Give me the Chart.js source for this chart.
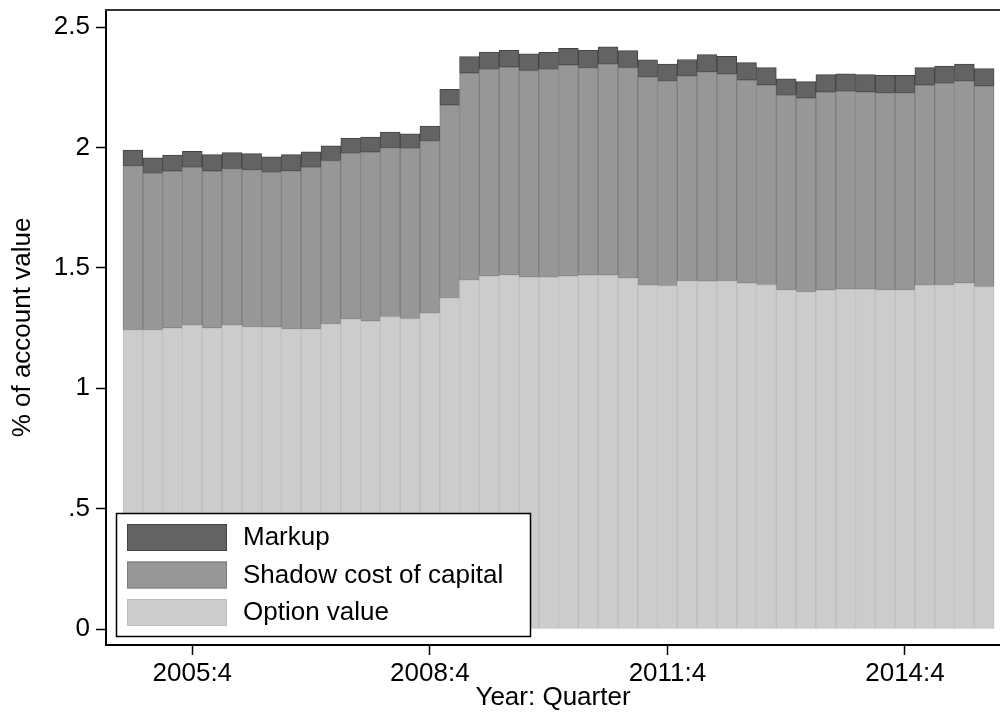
<!DOCTYPE html>
<html>
<head>
<meta charset="utf-8">
<script src="https://cdn.jsdelivr.net/npm/chart.js@4/dist/chart.umd.min.js"></script>
<style>
  html, body { margin: 0; padding: 0; background: #ffffff; }
  canvas { display: block; }
</style>
</head>
<body>
<canvas id="chart" width="1000" height="715"></canvas>
<script>
// Quarterly periods, 2005:1 to 2015:4
const quarters = [
  "2005:1","2005:2","2005:3","2005:4","2006:1","2006:2","2006:3","2006:4",
  "2007:1","2007:2","2007:3","2007:4","2008:1","2008:2","2008:3","2008:4",
  "2009:1","2009:2","2009:3","2009:4","2010:1","2010:2","2010:3","2010:4",
  "2011:1","2011:2","2011:3","2011:4","2012:1","2012:2","2012:3","2012:4",
  "2013:1","2013:2","2013:3","2013:4","2014:1","2014:2","2014:3","2014:4",
  "2015:1","2015:2","2015:3","2015:4"
];

// Components of the fee, % of account value
const optionValue = [
  1.242, 1.242, 1.250, 1.261, 1.250, 1.261, 1.255, 1.253,
  1.247, 1.247, 1.267, 1.287, 1.279, 1.297, 1.289, 1.311,
  1.375, 1.449, 1.466, 1.471, 1.462, 1.460, 1.466, 1.469,
  1.469, 1.456, 1.427, 1.426, 1.446, 1.444, 1.446, 1.436,
  1.430, 1.409, 1.400, 1.408, 1.411, 1.411, 1.409, 1.409,
  1.427, 1.429, 1.437, 1.422
];
const shadowCost = [
  0.681, 0.650, 0.651, 0.656, 0.651, 0.651, 0.652, 0.643,
  0.656, 0.670, 0.678, 0.688, 0.701, 0.701, 0.707, 0.716,
  0.800, 0.859, 0.858, 0.862, 0.857, 0.864, 0.875, 0.861,
  0.877, 0.875, 0.865, 0.850, 0.850, 0.870, 0.859, 0.843,
  0.829, 0.807, 0.804, 0.821, 0.822, 0.819, 0.818, 0.818,
  0.831, 0.837, 0.838, 0.833
];
const markup = [
  0.066, 0.065, 0.067, 0.067, 0.069, 0.066, 0.067, 0.065,
  0.067, 0.065, 0.062, 0.063, 0.063, 0.066, 0.060, 0.062,
  0.066, 0.069, 0.072, 0.070, 0.070, 0.071, 0.070, 0.073,
  0.072, 0.071, 0.072, 0.070, 0.069, 0.071, 0.073, 0.073,
  0.072, 0.069, 0.069, 0.073, 0.073, 0.072, 0.072, 0.072,
  0.073, 0.072, 0.071, 0.072
];

// Axis ticks
const xTickLabels = ["2005:4", "2008:4", "2011:4", "2014:4"];
const yTickValues = [0, 0.5, 1, 1.5, 2, 2.5];
const yTickLabels = ["0", ".5", "1", "1.5", "2", "2.5"];

const FONT = "'Liberation Sans', Arial, Helvetica, sans-serif";
const FONT_SIZE = 26;

function points(values) {
  return values.map((v, i) => ({ x: i, y: v }));
}

// Legend box drawn inside the plot area, lower left
const boxLegend = {
  id: 'boxLegend',
  afterDatasetsDraw(chart) {
    const ctx = chart.ctx;
    const items = chart.data.datasets.slice().reverse();
    const x0 = 116, y0 = 513, w = 414, h = 123;
    ctx.save();
    ctx.fillStyle = '#ffffff';
    ctx.fillRect(x0, y0, w, h);
    ctx.strokeStyle = '#000000';
    ctx.lineWidth = 1.5;
    ctx.strokeRect(x0 + 0.5, y0 + 0.5, w, h);
    ctx.font = FONT_SIZE + 'px ' + FONT;
    ctx.textBaseline = 'middle';
    ctx.textAlign = 'left';
    items.forEach((ds, i) => {
      const sy = y0 + 11 + i * 37.5;
      ctx.fillStyle = ds.backgroundColor;
      ctx.fillRect(127, sy, 100, 27);
      ctx.strokeStyle = ds.borderColor;
      ctx.lineWidth = 1;
      ctx.strokeRect(127.5, sy + 0.5, 99, 26);
      ctx.fillStyle = '#000000';
      ctx.fillText(ds.label, 243, sy + 14);
    });
    ctx.restore();
  }
};

// Top edge of the plot region
const plotFrame = {
  id: 'plotFrame',
  afterDraw(chart) {
    const { ctx, chartArea } = chart;
    ctx.save();
    ctx.strokeStyle = '#333333';
    ctx.lineWidth = 2;
    ctx.beginPath();
    ctx.moveTo(chartArea.left - 1, chartArea.top);
    ctx.lineTo(chartArea.right, chartArea.top);
    ctx.stroke();
    ctx.restore();
  }
};

new Chart(document.getElementById('chart'), {
  type: 'bar',
  data: {
    datasets: [
      {
        label: 'Option value',
        data: points(optionValue),
        backgroundColor: '#cccccc',
        borderColor: '#bdbdbd',
        borderWidth: 1,
        borderSkipped: false
      },
      {
        label: 'Shadow cost of capital',
        data: points(shadowCost),
        backgroundColor: '#979797',
        borderColor: '#7e7e7e',
        borderWidth: 1,
        borderSkipped: false
      },
      {
        label: 'Markup',
        data: points(markup),
        backgroundColor: '#636363',
        borderColor: '#444444',
        borderWidth: 1,
        borderSkipped: false
      }
    ]
  },
  options: {
    responsive: false,
    animation: false,
    devicePixelRatio: 1,
    layout: { padding: { top: 10, right: 0, left: 0, bottom: 0 } },
    datasets: {
      bar: { barPercentage: 1.0, categoryPercentage: 1.0 }
    },
    plugins: {
      legend: { display: false },
      tooltip: { enabled: false },
      title: { display: false }
    },
    scales: {
      x: {
        type: 'linear',
        stacked: true,
        offset: false,
        min: -1.36,
        max: 43.8,
        afterBuildTicks(scale) {
          scale.ticks = xTickLabels.map(l => ({ value: quarters.indexOf(l) }));
        },
        afterFit(scale) {
          scale.height = 70;
          scale.paddingLeft = 0;
          scale.paddingRight = 0;
        },
        ticks: {
          autoSkip: false,
          maxRotation: 0,
          color: '#000000',
          padding: 3,
          font: { family: FONT, size: FONT_SIZE },
          callback: (v) => quarters[v]
        },
        grid: {
          display: true,
          offset: false,
          drawOnChartArea: false,
          drawTicks: true,
          tickLength: 10,
          tickWidth: 1.5,
          color: '#000000'
        },
        border: { display: true, color: '#000000', width: 2 },
        title: {
          display: true,
          text: 'Year: Quarter',
          color: '#000000',
          font: { family: FONT, size: FONT_SIZE },
          padding: { top: 0, bottom: 2 }
        }
      },
      y: {
        type: 'linear',
        stacked: true,
        min: -0.0664,
        max: 2.5706,
        afterBuildTicks(scale) {
          scale.ticks = yTickValues.map(v => ({ value: v }));
        },
        afterFit(scale) {
          scale.width = 106;
          scale.paddingTop = 0;
          scale.paddingBottom = 0;
        },
        ticks: {
          color: '#000000',
          padding: 6,
          font: { family: FONT, size: FONT_SIZE },
          callback: (v) => yTickLabels[yTickValues.indexOf(v)]
        },
        grid: {
          display: true,
          drawOnChartArea: false,
          drawTicks: true,
          tickLength: 10,
          tickWidth: 1.5,
          color: '#000000'
        },
        border: { display: true, color: '#000000', width: 2 },
        title: {
          display: true,
          text: '% of account value',
          color: '#000000',
          font: { family: FONT, size: FONT_SIZE },
          padding: { top: 7, bottom: 0 }
        }
      }
    }
  },
  plugins: [boxLegend, plotFrame]
});
</script>
</body>
</html>
